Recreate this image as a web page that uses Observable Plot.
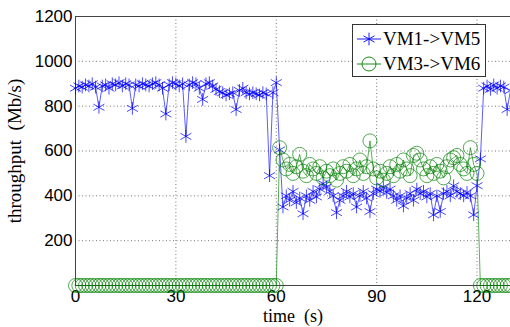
<!DOCTYPE html>
<html>
<head>
<meta charset="utf-8">
<script src="https://cdn.jsdelivr.net/npm/d3@7"></script>
<script src="https://cdn.jsdelivr.net/npm/@observablehq/plot@0.6"></script>
<style>
  html, body { margin: 0; padding: 0; background: #fff; }
  #wrap { position: relative; width: 510px; height: 327px; overflow: hidden; }
  #legend { position: absolute; left: 352px; top: 24px; width: 132px; height: 51px;
    border: 1px solid #333; background: #fff; font-family: "Liberation Serif", "Times New Roman", serif; font-size: 19px; }
  #legend .row { position: absolute; left: 0; height: 24px; width: 132px; }
  #legend svg { position: absolute; left: 3px; top: 0; }
  #legend span { position: absolute; left: 30px; top: 0; line-height: 24px; white-space: nowrap; color: #000; }
</style>
</head>
<body>
<div id="wrap"></div>
<script>
const seriesNames = ["VM1->VM5", "VM3->VM6"];
const xTicks = [0, 30, 60, 90, 120];
const yTicks = [200, 400, 600, 800, 1000, 1200];
const time = d3.range(0, 131);

const vm1vm5 = [
  880, 890, 885, 895, 890, 900, 885, 795, 890, 895,
  880, 900, 895, 905, 890, 900, 895, 790, 895, 890,
  900, 895, 890, 900, 905, 895, 880, 765, 895, 905,
  900, 890, 900, 665, 895, 905, 900, 880, 830, 900,
  905, 890, 875, 865, 860, 850, 855, 860, 785, 870,
  880, 860, 855, 860, 855, 850, 860, 855, 490, 860,
  905, 605, 350, 400, 380, 420, 370, 390, 320, 400,
  380, 420, 395, 430, 455, 440, 420, 400, 325, 380,
  400, 420, 395, 410, 350, 400, 420, 390, 330, 410,
  430, 420, 440, 415, 430, 400, 380, 400, 355, 390,
  410, 380, 430, 410, 420, 395, 410, 315, 400, 330,
  410, 420, 400, 445, 420, 410, 400, 415, 400, 315,
  445, 565, 880, 890, 875, 895, 880, 890, 885, 785,
  870
];

const vm3vm6 = [
  0, 0, 0, 0, 0, 0, 0, 0, 0, 0,
  0, 0, 0, 0, 0, 0, 0, 0, 0, 0,
  0, 0, 0, 0, 0, 0, 0, 0, 0, 0,
  0, 0, 0, 0, 0, 0, 0, 0, 0, 0,
  0, 0, 0, 0, 0, 0, 0, 0, 0, 0,
  0, 0, 0, 0, 0, 0, 0, 0, 0, 0,
  0, 615, 560, 520, 540, 500, 530, 585, 510, 490,
  540, 520, 500, 530, 480, 510, 490, 520, 470, 500,
  530, 510, 540, 490, 520, 560, 500, 530, 645, 520,
  480, 510, 470, 500, 530, 490, 540, 510, 560, 520,
  490, 580, 590, 560, 520, 490, 530, 500, 540, 510,
  480, 530, 560, 570, 580, 540, 520, 500, 615, 540,
  500, 0, 0, 0, 0, 0, 0, 0, 0, 0,
  0
];

const colors = ["#0000ff", "#008000"];

const d1 = time.map((t, i) => ({t, v: vm1vm5[i]}));
const d2 = time.map((t, i) => ({t, v: vm3vm6[i]}));

const chart = Plot.plot({
  width: 510,
  height: 327,
  marginLeft: 75,
  marginRight: 0,
  marginTop: 16,
  marginBottom: 42,
  style: {fontFamily: "'Liberation Sans', Arial, sans-serif", fontSize: "17px", color: "#000", background: "#fff", overflow: "visible"},
  x: {domain: [0, 130], ticks: xTicks},
  y: {domain: [0, 1200], ticks: yTicks},
  marks: [
    Plot.gridX(xTicks.slice(1), {stroke: "#777", strokeOpacity: 1, strokeDasharray: "1,2.5"}),
    Plot.gridY(yTicks.slice(0, -1), {stroke: "#777", strokeOpacity: 1, strokeDasharray: "1,2.5"}),
    Plot.ruleX([0], {stroke: "#444"}),
    Plot.ruleY([0, 1200], {stroke: "#444"}),
    Plot.axisX({ticks: xTicks, tickSize: 0, tickPadding: 4, label: null, fontSize: 17, tickFormat: d => String(d)}),
    Plot.axisY({ticks: yTicks, tickSize: 0, tickPadding: 3, label: null, fontSize: 17, tickFormat: d => String(d)}),
    Plot.line(d1, {x: "t", y: "v", stroke: colors[0], strokeWidth: 0.8, strokeOpacity: 0.8}),
    Plot.dot(d1, {x: "t", y: "v", symbol: "asterisk", r: 6, stroke: colors[0], strokeWidth: 0.8, strokeOpacity: 0.9}),
    Plot.line(d2, {x: "t", y: "v", stroke: colors[1], strokeWidth: 0.8, strokeOpacity: 0.8}),
    Plot.dot(d2, {x: "t", y: "v", symbol: "circle", r: 7, fill: "none", stroke: colors[1], strokeWidth: 0.8, strokeOpacity: 0.85}),
    Plot.text(["time\u00a0 (s)"], {frameAnchor: "bottom", dy: 36, fontFamily: "'Liberation Serif', 'Times New Roman', serif", fontSize: 18, fill: "#000"}),
    Plot.text(["throughput\u00a0 (Mb/s)"], {frameAnchor: "left", dx: -61, rotate: -90, textAnchor: "middle", fontFamily: "'Liberation Serif', 'Times New Roman', serif", fontSize: 19, fill: "#000"})
  ]
});

const wrap = document.getElementById("wrap");
wrap.appendChild(chart);

// legend
const legend = document.createElement("div");
legend.id = "legend";
seriesNames.forEach((name, i) => {
  const row = document.createElement("div");
  row.className = "row";
  row.style.top = (2 + i * 25) + "px";
  const svg = d3.create("svg").attr("width", 26).attr("height", 24);
  svg.append("line").attr("x1", 1).attr("x2", 25).attr("y1", 12).attr("y2", 12)
    .attr("stroke", colors[i]).attr("stroke-width", 0.9);
  const sym = i === 0 ? d3.symbolAsterisk : d3.symbolCircle;
  svg.append("path").attr("d", d3.symbol(sym, Math.PI * (i === 0 ? 36 : 49))())
    .attr("transform", "translate(13,12)").attr("fill", "none")
    .attr("stroke", colors[i]).attr("stroke-width", 0.9);
  row.appendChild(svg.node());
  const span = document.createElement("span");
  span.textContent = name;
  row.appendChild(span);
  legend.appendChild(row);
});
wrap.appendChild(legend);
</script>
</body>
</html>
